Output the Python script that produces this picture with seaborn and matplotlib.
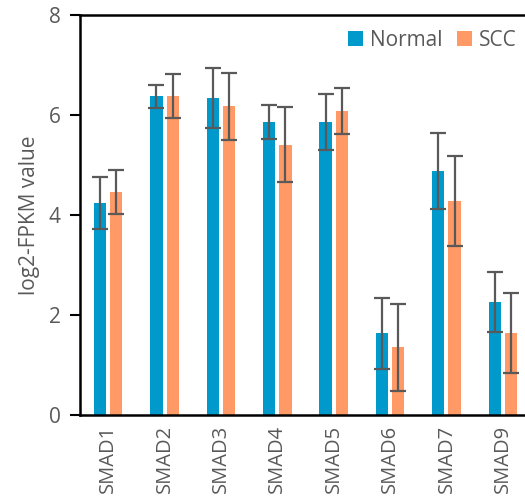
import matplotlib
matplotlib.use("Agg")
import matplotlib.pyplot as plt
import seaborn as sns
import pandas as pd
import numpy as np

genes = ["SMAD1", "SMAD2", "SMAD3", "SMAD4", "SMAD5", "SMAD6", "SMAD7", "SMAD9"]
normal_mean = [4.25, 6.38, 6.35, 5.87, 5.87, 1.64, 4.89, 2.27]
normal_err = [0.52, 0.23, 0.60, 0.34, 0.56, 0.71, 0.76, 0.60]
scc_mean = [4.46, 6.39, 6.18, 5.41, 6.08, 1.36, 4.29, 1.65]
scc_err = [0.44, 0.44, 0.67, 0.75, 0.46, 0.87, 0.90, 0.80]
groups = ["Normal", "SCC"]
colors = ["#0099CC", "#FF9966"]

sns.set_style("white")
plt.rcParams['font.family'] = ['Open Sans', 'DejaVu Sans']

df = pd.DataFrame({
    "gene": genes * 2,
    "group": [groups[0]] * len(genes) + [groups[1]] * len(genes),
    "value": normal_mean + scc_mean,
})

fig = plt.figure(figsize=(5.25, 5.04), dpi=100)
ax = fig.add_axes([80 / 525, (504 - 415) / 504, 451 / 525, 400 / 504])

sns.barplot(data=df, x="gene", y="value", hue="group", palette=colors,
            errorbar=None, width=0.58, gap=0.25, ax=ax, edgecolor="none", saturation=1)

errs = normal_err + scc_err
means = normal_mean + scc_mean
for p, m, e in zip(ax.patches[:len(means)], means, errs):
    cx = p.get_x() + p.get_width() / 2
    ax.errorbar(cx, m, yerr=e, fmt="none", ecolor="#595959", elinewidth=1.6,
                capsize=5.5, capthick=1.6, zorder=3)

fs = 15
ax.set_xlim(-0.5, 7.5)
ax.set_ylim(0, 8)
ax.set_yticks([0, 2, 4, 6, 8])
ax.set_xlabel("")
ax.set_ylabel("log2-FPKM value", fontsize=fs, color="#595959", labelpad=6)
ax.tick_params(axis="y", which="major", length=7, width=1.5, color="black",
               labelsize=fs, labelcolor="#595959", left=True, pad=7)
ax.tick_params(axis="x", length=0, labelsize=fs - 0.5, labelcolor="#595959", rotation=90, pad=7)

for s in ["left", "bottom", "top"]:
    ax.spines[s].set_visible(True)
    ax.spines[s].set_color("black")
    ax.spines[s].set_linewidth(1.8)
ax.spines["right"].set_visible(False)

leg = ax.legend(loc="upper right", bbox_to_anchor=(0.995, 0.995), ncol=2, frameon=False,
                fontsize=fs, handlelength=0.75, handleheight=0.75, handletextpad=0.3,
                columnspacing=0.7, borderaxespad=0.2)
for t in leg.get_texts():
    t.set_color("#595959")

fig.savefig("out.png", dpi=100)
